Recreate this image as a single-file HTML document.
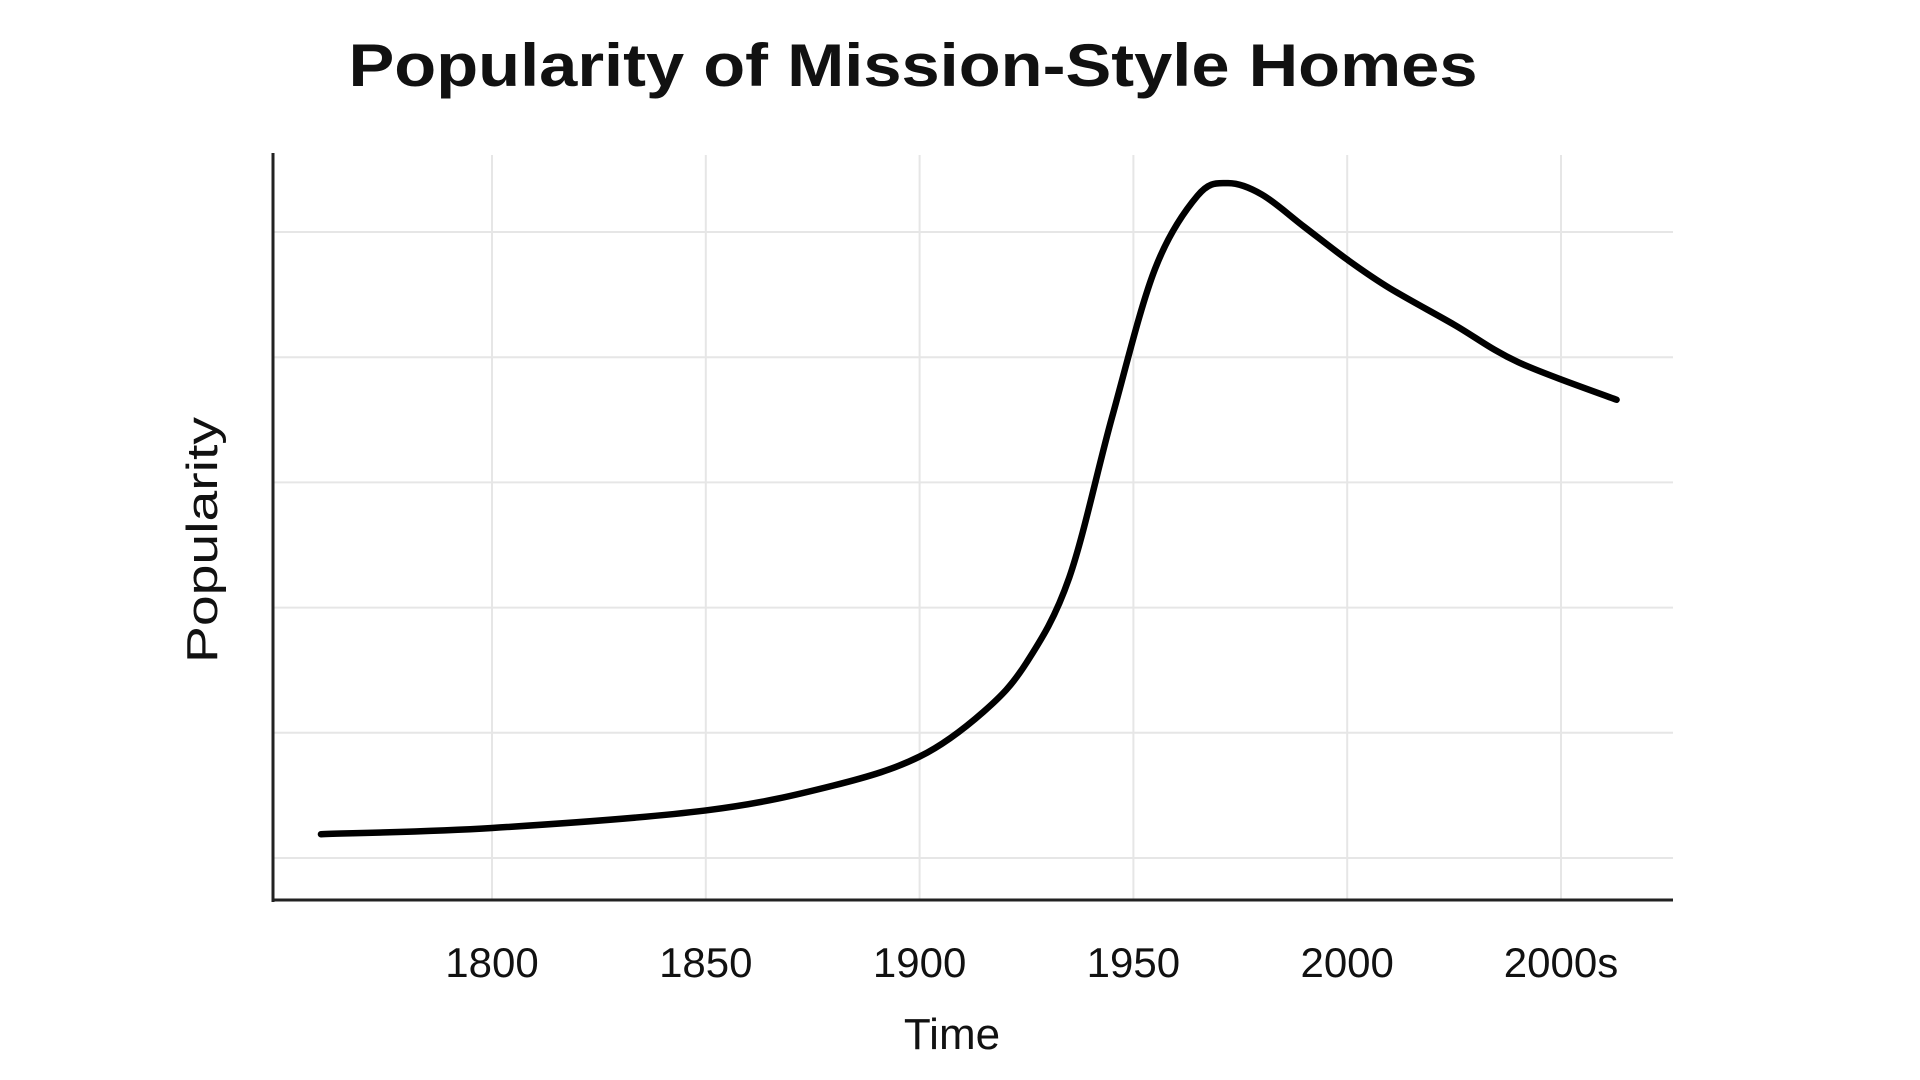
<!DOCTYPE html>
<html><head><meta charset="utf-8"><style>
html,body{margin:0;padding:0;background:#fff;}
svg{display:block;}
text{font-family:"Liberation Sans","DejaVu Sans",sans-serif;fill:#111;}
</style></head><body>
<svg id="chart" width="1920" height="1080" viewBox="0 0 1920 1080" xmlns="http://www.w3.org/2000/svg">
<text x="913" y="86" text-anchor="middle" font-size="60" font-weight="bold" textLength="1129" lengthAdjust="spacingAndGlyphs">Popularity of Mission-Style Homes</text>
<g id="grid"></g>
<g id="ticks"></g>
<line x1="273" y1="153" x2="273" y2="902" stroke="#222" stroke-width="3"/>
<line x1="272" y1="900" x2="1673" y2="900" stroke="#222" stroke-width="3"/>
<path id="line" fill="none" stroke="#000" stroke-width="6.5" stroke-linecap="round" stroke-linejoin="round"/>
<text x="952" y="1049" text-anchor="middle" font-size="44">Time</text>
<text x="0" y="0" text-anchor="middle" font-size="44" transform="translate(217,540) rotate(-90)" textLength="246" lengthAdjust="spacingAndGlyphs">Popularity</text>
</svg>
<script>
const xTickYears = [1800, 1850, 1900, 1950, 2000, 2050];
const xTickLabels = ["1800", "1850", "1900", "1950", "2000", "2000s"];
const yGridValues = [1, 2, 3, 4, 5, 6];
const years = [1760, 1800, 1850, 1880, 1900, 1915, 1925, 1935, 1945, 1955, 1965, 1972, 1980, 1990, 2000, 2010, 2025, 2040, 2063];
const popularity = [1.19, 1.24, 1.38, 1.58, 1.81, 2.17, 2.56, 3.24, 4.52, 5.70, 6.29, 6.39, 6.30, 6.04, 5.78, 5.55, 5.26, 4.96, 4.66];

function xScale(yr){ return 492 + (yr - 1800) * (1561 - 492) / 250; }
function yScale(v){ return 858 - (v - 1) * 125.2; }

const NS = "http://www.w3.org/2000/svg";
const grid = document.getElementById('grid');
xTickYears.forEach(function(yr){
  const l = document.createElementNS(NS,'line');
  
  
  const x = xScale(yr);
  l.setAttribute('x1', x); l.setAttribute('x2', x);
  l.setAttribute('y1', 155); l.setAttribute('y2', 899);
  l.setAttribute('stroke', '#e6e6e6'); l.setAttribute('stroke-width', 2);
  grid.appendChild(l);
});
yGridValues.forEach(function(v){
  const l = document.createElementNS(NS,'line');
  
  
  const y = yScale(v);
  l.setAttribute('x1', 274); l.setAttribute('x2', 1673);
  l.setAttribute('y1', y); l.setAttribute('y2', y);
  l.setAttribute('stroke', '#e6e6e6'); l.setAttribute('stroke-width', 2);
  grid.appendChild(l);
});
const ticks = document.getElementById('ticks');
xTickYears.forEach(function(yr, i){
  const t = document.createElementNS(NS,'text');
  
  
  t.setAttribute('x', xScale(yr));
  t.setAttribute('y', 977);
  t.setAttribute('text-anchor', 'middle');
  t.setAttribute('font-size', '42');
  t.textContent = xTickLabels[i];
  ticks.appendChild(t);
});
const pts = years.map(function(yr, i){ return [xScale(yr), yScale(popularity[i])]; });
let d = 'M' + pts[0][0] + ',' + pts[0][1];
for (let i = 0; i < pts.length - 1; i++) {
  const p0 = pts[i-1] || pts[i], p1 = pts[i], p2 = pts[i+1], p3 = pts[i+2] || pts[i+1];
  const c1x = p1[0] + (p2[0]-p0[0])/6, c1y = p1[1] + (p2[1]-p0[1])/6;
  const c2x = p2[0] - (p3[0]-p1[0])/6, c2y = p2[1] - (p3[1]-p1[1])/6;
  d += ' C' + c1x + ',' + c1y + ' ' + c2x + ',' + c2y + ' ' + p2[0] + ',' + p2[1];
}
document.getElementById('line').setAttribute('d', d);
</script>
</body></html>
